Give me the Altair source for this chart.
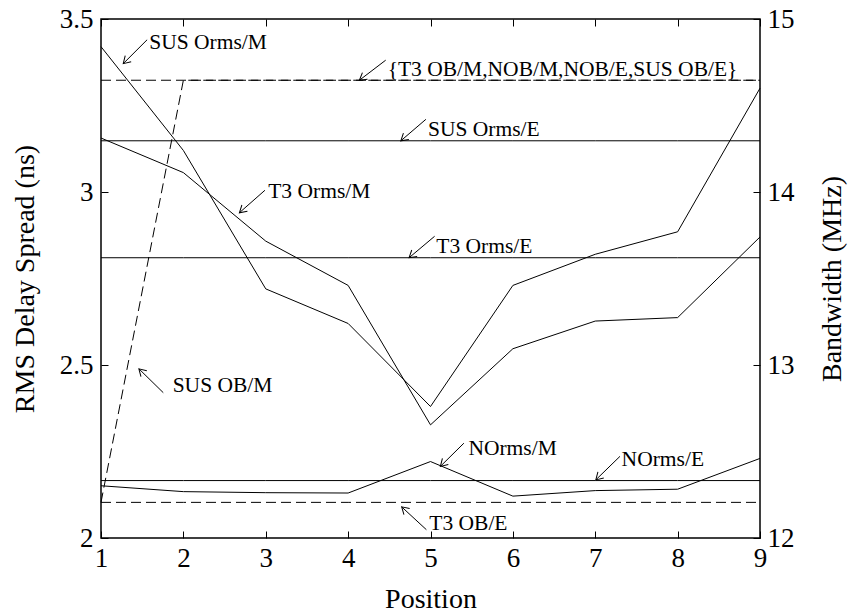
import math
import altair as alt
import pandas as pd

# ---------------- data ----------------
positions = [1, 2, 3, 4, 5, 6, 7, 8, 9]

# RMS delay spread (ns) - left axis
sus_orms_m = [3.42, 3.12, 2.72, 2.62, 2.38, 2.73, 2.82, 2.885, 3.30]
t3_orms_m = [3.156, 3.056, 2.858, 2.73, 2.327, 2.547, 2.627, 2.637, 2.87]
norms_m = [2.151, 2.134, 2.131, 2.130, 2.221, 2.121, 2.137, 2.141, 2.230]
sus_orms_e = [3.148] * 9
t3_orms_e = [2.81] * 9
norms_e = [2.166] * 9

# Bandwidth (MHz) - right axis
group_ob = [14.646] * 9          # {T3 OB/M, NOB/M, NOB/E, SUS OB/E}
t3_ob_e = [12.206] * 9
sus_ob_m = [12.206, 14.646, 14.646, 14.646, 14.646, 14.646, 14.646, 14.646, 14.646]

# annotations: label, text pos, arrow tail, arrow head (left-axis units)
ann_labels = ["SUS Orms/M", "{T3 OB/M,NOB/M,NOB/E,SUS OB/E}", "SUS Orms/E",
              "T3 Orms/M", "T3 Orms/E", "SUS OB/M", "NOrms/M", "NOrms/E", "T3 OB/E"]
ann_text_x = [1.585, 4.48, 4.97, 3.03, 5.07, 1.87, 5.46, 7.32, 4.985]
ann_text_y = [3.43, 3.352, 3.179, 3.0, 2.841, 2.438, 2.256, 2.226, 2.04]
ann_tail_x = [1.56, 4.456, 4.944, 2.99, 5.05, 1.756, 5.405, 7.30, 4.95]
ann_tail_y = [3.44, 3.381, 3.21, 3.005, 2.872, 2.42, 2.274, 2.236, 2.024]
ann_head_x = [1.27, 4.137, 4.64, 2.68, 4.74, 1.46, 5.12, 7.007, 4.65]
ann_head_y = [3.371, 3.323, 3.148, 2.94, 2.81, 2.489, 2.207, 2.168, 2.09]

x_ticks = [1, 2, 3, 4, 5, 6, 7, 8, 9]
y_left_ticks = [2, 2.5, 3, 3.5]
y_right_ticks = [12, 13, 14, 15]

# ---------------- layout ----------------
W, H = 659, 519
FONT = "Liberation Serif"
TICK = 7
LBL = 27
TTL = 28
NS_MIN, NS_MAX = 2.0, 3.5
BW_MIN, BW_MAX = 12.0, 15.0
K = (NS_MAX - NS_MIN) / (BW_MAX - BW_MIN)

xs = alt.Scale(domain=[1, 9], nice=False, zero=False)
ys = alt.Scale(domain=[NS_MIN, NS_MAX], nice=False, zero=False)

rows = []
for name, vals in [("SUS Orms/M", sus_orms_m), ("T3 Orms/M", t3_orms_m),
                   ("NOrms/M", norms_m), ("SUS Orms/E", sus_orms_e),
                   ("T3 Orms/E", t3_orms_e), ("NOrms/E", norms_e)]:
    for p, v in zip(positions, vals):
        rows.append({"series": name, "pos": p, "val": v})
solid_df = pd.DataFrame(rows)

drows = []
for name, vals in [("group", group_ob), ("T3 OB/E", t3_ob_e), ("SUS OB/M", sus_ob_m)]:
    for p, v in zip(positions, vals):
        drows.append({"series": name, "pos": p, "bw": v})
dash_df = pd.DataFrame(drows)

sx = W / 8.0
sy = H / (NS_MAX - NS_MIN)
angles = []
for tx, ty, hx, hy in zip(ann_tail_x, ann_tail_y, ann_head_x, ann_head_y):
    a = math.degrees(math.atan2(-(hy - ty) * sy, (hx - tx) * sx)) % 360
    angles.append(a)
ann_df = pd.DataFrame({
    "label": ann_labels, "tx": ann_text_x, "ty": ann_text_y,
    "ax": ann_tail_x, "ay": ann_tail_y, "hx": ann_head_x, "hy": ann_head_y,
    "ang": angles,
})

# right-axis tick positions expressed on the shared (ns) scale
right_vals = [NS_MIN + (b - BW_MIN) * K for b in y_right_ticks]
right_label_expr = f"format({BW_MIN} + (datum.value - {NS_MIN}) / {K}, 'd')"

x_bottom = alt.Axis(orient="bottom", values=x_ticks, format="d", tickSize=TICK, offset=-TICK,
                    domain=False, grid=False, labelFont=FONT, labelFontSize=LBL,
                    labelColor="black", tickColor="black", labelPadding=7,
                    labelFlush=False, labelOverlap=False,
                    title="Position", titleFont=FONT, titleFontSize=TTL,
                    titleFontWeight="normal", titleColor="black",
                    titleX=W / 2, titleY=76, titleBaseline="alphabetic", titleAlign="center")
x_top = alt.Axis(orient="top", values=x_ticks, tickSize=TICK, offset=-TICK, domain=False,
                 grid=False, labels=False, tickColor="black", title=None)
y_left = alt.Axis(orient="left", values=y_left_ticks, format="~g", tickSize=TICK, offset=-TICK,
                  domain=False, grid=False, labelFont=FONT, labelFontSize=LBL,
                  labelColor="black", tickColor="black", labelPadding=8,
                  labelFlush=False, labelOverlap=False,
                  title="RMS Delay Spread (ns)", titleFont=FONT, titleFontSize=TTL,
                  titleFontWeight="normal", titleColor="black", titleAngle=270,
                  titleX=-75, titleY=H / 2, titleBaseline="alphabetic", titleAlign="center")
y_right = alt.Axis(orient="right", values=right_vals, labelExpr=right_label_expr,
                   tickSize=TICK, offset=-TICK,
                   domain=False, grid=False, labelFont=FONT, labelFontSize=LBL,
                   labelColor="black", tickColor="black", labelPadding=7,
                   labelFlush=False, labelOverlap=False,
                   title="Bandwidth (MHz)", titleFont=FONT, titleFontSize=TTL,
                   titleFontWeight="normal", titleColor="black", titleAngle=270,
                   titleX=87, titleY=H / 2, titleBaseline="alphabetic", titleAlign="center")

solid = alt.Chart(solid_df).mark_line(color="black", strokeWidth=1).encode(
    x=alt.X("pos:Q", scale=xs, axis=x_bottom),
    y=alt.Y("val:Q", scale=ys, axis=y_left),
    detail="series:N",
)
dashed = alt.Chart(dash_df).transform_calculate(
    val=f"{NS_MIN} + (datum.bw - {BW_MIN}) * {K}"
).mark_line(color="black", strokeWidth=1, strokeDash=[10, 5]).encode(
    x=alt.X("pos:Q", scale=xs, axis=x_top),
    y=alt.Y("val:Q", scale=ys, axis=y_right),
    detail="series:N",
)
shafts = alt.Chart(ann_df).mark_rule(color="black", strokeWidth=1).encode(
    x=alt.X("ax:Q", scale=xs, axis=None),
    y=alt.Y("ay:Q", scale=ys, axis=None),
    x2="hx:Q", y2="hy:Q",
)
heads = alt.Chart(ann_df).mark_point(shape="M-1,-0.6L0,0L-1,0.6", filled=False,
                                     color="black", strokeWidth=1, size=196,
                                     opacity=1).encode(
    x=alt.X("hx:Q", scale=xs, axis=None),
    y=alt.Y("hy:Q", scale=ys, axis=None),
    angle=alt.Angle("ang:Q", scale=None),
)
texts = alt.Chart(ann_df).mark_text(align="left", baseline="middle", font=FONT,
                                    fontSize=21.5, color="black").encode(
    x=alt.X("tx:Q", scale=xs, axis=None),
    y=alt.Y("ty:Q", scale=ys, axis=None),
    text="label:N",
)

chart = alt.layer(solid, dashed, shafts, heads, texts).resolve_axis(
    x="independent", y="independent"
).properties(
    width=W, height=H,
    autosize=alt.AutoSizeParams(type="none"),
    padding={"left": 101, "top": 19, "right": 89, "bottom": 76},
    background="white",
).configure_view(
    stroke="black", strokeWidth=1.5
)

chart.save("out.html", embed_options={"renderer": "svg", "actions": False})
